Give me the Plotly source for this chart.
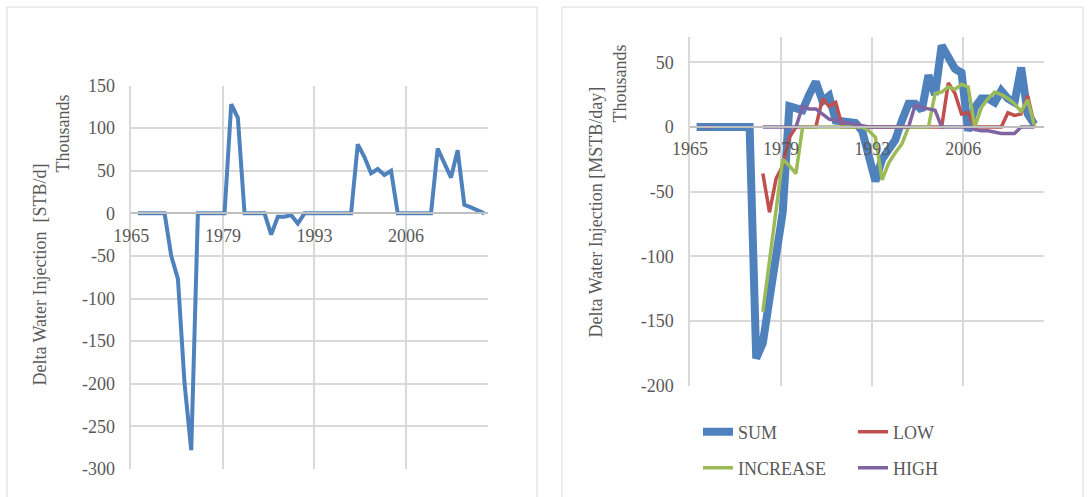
import plotly.graph_objects as go

# ---------------- data ----------------
# Left chart: Delta Water Injection [STB/d], thousands
years_left = list(range(1966, 2019))
delta_left = [0, 0, 0, 0, 0, -50, -77, -200, -278, 0,
              0, 0, 0, 0, 128, 112, 0, 0, 0, 0,
              -25, -4, -4, -2, -12, 0, 0, 0, 0, 0,
              0, 0, 0, 81, 66, 47, 52, 45, 50, 0,
              0, 0, 0, 0, 0, 76, 59, 42, 74, 10,
              7, 4, 0]

# Right chart: Delta Water Injection [MSTB/day], thousands
years_right = list(range(1966, 2018))
N = None
sum_vals = [0, 0, 0, 0, 0, 0, 0, 0, 0, -179,
            -167, -133, -100, -66, 16, 14, 13, 25, 35, 20,
            24, 5, 4, 3, 3, -3, -20, -42, -25, -17,
            -10, 5, 18, 18, 13, 40, 25, 63, 55, 45,
            42, -3, 15, 22, 22, 19, 28, 22, 19, 46,
            10, 2]
low_vals = [N, N, N, N, N, N, N, N, N, N,
            -36, -66, -40, -30, -8, 0, 0, 0, 0, 22,
            16, 19, 0, 0, 0, 0, 0, 0, 0, 0,
            0, 0, 0, 0, 0, 0, 0, 0, 34, 26,
            10, 11, 0, 0, 0, 0, 0, 11, 9, 10,
            24, 1]
increase_vals = [N, N, N, N, N, N, N, N, N, N,
                 -143, -104, -64, -25, -30, -36, 0, 0, 0, 0,
                 0, 0, 0, 0, 0, 0, -3, -8, -41, -28,
                 -20, -13, 0, 0, 0, 0, 26, 27, 31, 29,
                 33, 31, 0, 15, 22, 27, 25, 22, 18, 12,
                 21, 1]
high_vals = [N, 0, 0, N, N, N, N, N, N, N,
             0, 0, 0, 0, 0, 0, 16, 14, 14, 10,
             6, 5, 4, 3, 2, 1, 0, 0, 0, 0,
             0, 0, 0, 17, 15, 14, 13, 0, 0, 0,
             0, 0, -2, -3, -3, -4, -5, -5, -5, 0,
             0, 0]

series_names = ["SUM", "LOW", "INCREASE", "HIGH"]
series_colors = ["#4f81bd", "#c0504d", "#9bbb59", "#8064a2"]
series_widths = [8, 3.5, 3.5, 3.5]

x_tickvals = [1965, 1978.75, 1992.5, 2006.25]
x_ticktext = ["1965", "1979", "1993", "2006"]
left_yticks = [150, 100, 50, 0, -50, -100, -150, -200, -250, -300]
left_ytext = ["150", "100", "50", "0", "-50", "-100", "-150", "-200", "-250", "-300"]
right_yticks = [50, 0, -50, -100, -150, -200]
right_ytext = ["50", "0", "-50", "-100", "-150", "-200"]

# ---------------- styling ----------------
FONT = "Liberation Serif"
TXT = "#595959"
GRID = "#d9d9d9"
AXIS0 = "#bfbfbf"
W, H = 1090, 497

fig = go.Figure()

fig.add_trace(go.Scatter(x=years_left, y=delta_left, mode="lines",
                         line=dict(color="#4f81bd", width=4),
                         xaxis="x", yaxis="y", showlegend=False,
                         hoverinfo="skip"))

right_data = [sum_vals, low_vals, increase_vals, high_vals]
legends = ["legend", "legend", "legend2", "legend2"]
for name, vals, col, wd, lg in zip(series_names, right_data, series_colors,
                                   series_widths, legends):
    fig.add_trace(go.Scatter(x=years_right, y=vals, mode="lines", name=name,
                             line=dict(color=col, width=wd),
                             connectgaps=False, xaxis="x2", yaxis="y2",
                             legend=lg))

def px_x(p):
    return p / W

def px_y(p):
    return 1 - p / H

lx0, lx1 = px_x(131.3), px_x(488.3)
ly0, ly1 = px_y(469), px_y(85.5)
ly_zero = ly0 + (0 - (-300)) / 450 * (ly1 - ly0)
rx0, rx1 = px_x(690), px_x(1044)
ry0, ry1 = px_y(385.5), px_y(36.5)
ry_zero = ry0 + (0 - (-200)) / 270 * (ry1 - ry0)

tickfont = dict(family=FONT, size=18, color=TXT)

common_x = dict(tickmode="array", tickvals=x_tickvals, ticktext=x_ticktext,
                showgrid=True, gridcolor=GRID, gridwidth=1.5,
                showline=True, linecolor=AXIS0, linewidth=1.5,
                ticks="", tickfont=tickfont, zeroline=False,
                anchor="free", ticklabelstandoff=6, fixedrange=True,
                automargin=False)
common_y = dict(showgrid=True, gridcolor=GRID, gridwidth=1.5,
                showline=True, linecolor=GRID, linewidth=1.5,
                ticks="", tickfont=tickfont, zeroline=False, tickmode="array",
                ticklabelstandoff=11, fixedrange=True, automargin=False)

fig.update_layout(
    width=W, height=H, autosize=False,
    margin=dict(l=0, r=0, t=0, b=0, pad=0, autoexpand=False),
    paper_bgcolor="white", plot_bgcolor="white",
    font=dict(family=FONT, color=TXT, size=18),
    xaxis=dict(domain=[lx0, lx1], range=[1965, 2018.6], position=ly_zero,
               **common_x),
    yaxis=dict(domain=[ly0, ly1], range=[-300, 150],
               tickvals=left_yticks, ticktext=left_ytext, anchor="x",
               **common_y),
    xaxis2=dict(domain=[rx0, rx1], range=[1965, 2018.45], position=ry_zero,
                **common_x),
    yaxis2=dict(domain=[ry0, ry1], range=[-200, 70],
                tickvals=right_yticks, ticktext=right_ytext, anchor="x2",
                **common_y),
    legend=dict(orientation="h", x=px_x(698), y=px_y(432), xanchor="left",
                yanchor="middle", entrywidth=110, entrywidthmode="pixels",
                font=dict(family=FONT, size=18, color=TXT),
                bgcolor="rgba(0,0,0,0)", borderwidth=0),
    legend2=dict(orientation="h", x=px_x(698), y=px_y(468), xanchor="left",
                 yanchor="middle", entrywidth=110, entrywidthmode="pixels",
                 font=dict(family=FONT, size=18, color=TXT),
                 bgcolor="rgba(0,0,0,0)", borderwidth=0),
    shapes=[
        dict(type="rect", xref="paper", yref="paper",
             x0=px_x(7), x1=px_x(537), y0=-0.05, y1=px_y(7),
             line=dict(color=GRID, width=1), layer="below"),
        dict(type="rect", xref="paper", yref="paper",
             x0=px_x(562), x1=px_x(1083), y0=-0.05, y1=px_y(7),
             line=dict(color=GRID, width=1), layer="below"),
    ],
    annotations=[
        dict(text="Delta Water Injection\u00a0 [STB/d]", xref="paper", yref="paper",
             x=px_x(39.6), y=px_y(275), textangle=-90, showarrow=False,
             xanchor="center", yanchor="middle",
             font=dict(family=FONT, size=18, color=TXT)),
        dict(text="Thousands", xref="paper", yref="paper",
             x=px_x(62.5), y=px_y(134), textangle=-90, showarrow=False,
             xanchor="center", yanchor="middle",
             font=dict(family=FONT, size=18, color=TXT)),
        dict(text="Delta Water Injection [MSTB/day]", xref="paper", yref="paper",
             x=px_x(595), y=px_y(211.5), textangle=-90, showarrow=False,
             xanchor="center", yanchor="middle",
             font=dict(family=FONT, size=18, color=TXT)),
        dict(text="Thousands", xref="paper", yref="paper",
             x=px_x(620), y=px_y(83.5), textangle=-90, showarrow=False,
             xanchor="center", yanchor="middle",
             font=dict(family=FONT, size=18, color=TXT)),
    ],
)

fig.write_html(
    "out.html",
    config={"displayModeBar": False},
    post_script="document.body.style.margin='0';document.body.style.overflow='hidden';",
)
